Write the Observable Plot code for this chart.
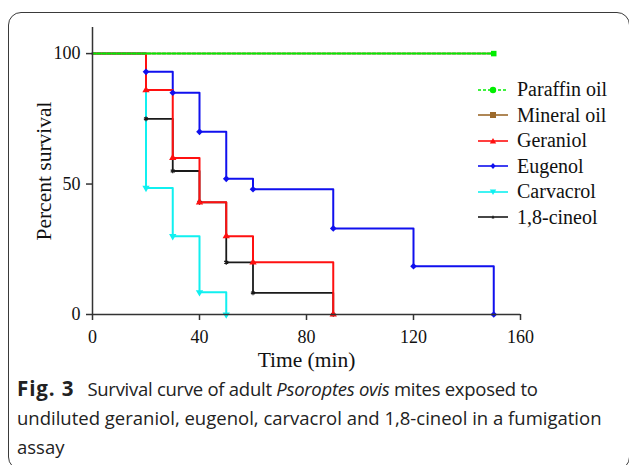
<!DOCTYPE html>
<html>
<head>
<meta charset="utf-8">
<script src="https://cdn.jsdelivr.net/npm/d3@7"></script>
<script src="https://cdn.jsdelivr.net/npm/@observablehq/plot@0.6"></script>
<style>
  html, body { margin: 0; padding: 0; background: #fff; }
  body { width: 629px; height: 465px; position: relative; overflow: hidden; }
  #frame { position: absolute; left: 8px; top: 12px; width: 622px; height: 458px;
           border: 1.3px solid #3a3a3a; border-radius: 13px; box-sizing: border-box; }
  #chart { position: absolute; left: 0; top: 0; }
  #legend { position: absolute; left: 478px; top: 77px; font-family: "Liberation Serif", serif;
            font-size: 20px; color: #111; }
  #legend .row { height: 25.5px; display: flex; align-items: center; white-space: nowrap; }
  #legend svg { margin-right: 9px; flex: none; }
  #caption { position: absolute; left: 17px; top: 373.5px; font-family: "Open Sans", sans-serif;
             font-size: 18.5px; line-height: 29px; color: #222; white-space: nowrap; }
  #caption b { font-weight: 700; font-size: 20.5px; letter-spacing: 0.9px; margin-right: 13px; }
  #caption .l1 { letter-spacing: -0.27px; }
</style>
</head>
<body>
<div id="frame"></div>
<div id="chart"></div>
<div id="legend"></div>
<div id="caption"><b>Fig. 3</b><span class="l1">Survival curve of adult <i>Psoroptes ovis</i> mites exposed to</span><br>undiluted geraniol, eugenol, carvacrol and 1,8-cineol in a fumigation<br>assay</div>
<script>
// ---- data ----
const seriesNames = ["Paraffin oil", "Mineral oil", "Geraniol", "Eugenol", "Carvacrol", "1,8-cineol"];
const paraffinTime = [0, 150];
const paraffinSurv = [100, 100];
const mineralTime = [0, 150];
const mineralSurv = [100, 100];
const geraniolTime = [0, 20, 30, 40, 50, 60, 90];
const geraniolSurv = [100, 86, 60, 43, 30, 20, 0];
const eugenolTime = [0, 20, 30, 40, 50, 60, 90, 120, 150];
const eugenolSurv = [100, 93, 85, 70, 52, 48, 33, 18.5, 0];
const carvacrolTime = [0, 20, 30, 40, 50];
const carvacrolSurv = [100, 48.5, 30, 8.5, 0];
const cineolTime = [0, 20, 30, 40, 50, 60, 90];
const cineolSurv = [100, 75, 55, 43, 20, 8.3, 0];
const xTicks = [0, 40, 80, 120, 160];
const yTicks = [0, 50, 100];

// ---- styles ----
const colors = {
  "Paraffin oil": "#00ee00", "Mineral oil": "#9c6a2c", "Geraniol": "#ff1010",
  "Eugenol": "#1010ee", "Carvacrol": "#10f0f0", "1,8-cineol": "#1a1a1a"
};
const toRows = (name, t, s) => t.map((x, i) => ({name, t: x, s: s[i]}));
const data = {
  "Paraffin oil": toRows("Paraffin oil", paraffinTime, paraffinSurv),
  "Mineral oil": toRows("Mineral oil", mineralTime, mineralSurv),
  "Geraniol": toRows("Geraniol", geraniolTime, geraniolSurv),
  "Eugenol": toRows("Eugenol", eugenolTime, eugenolSurv),
  "Carvacrol": toRows("Carvacrol", carvacrolTime, carvacrolSurv),
  "1,8-cineol": toRows("1,8-cineol", cineolTime, cineolSurv)
};
const after0 = arr => arr.slice(1);

const stepLine = (name, w) => Plot.line(data[name], {x: "t", y: "s", curve: "step-after",
  stroke: colors[name], strokeWidth: w});

const chart = Plot.plot({
  width: 629, height: 380,
  marginLeft: 92, marginRight: 109, marginTop: 27, marginBottom: 66,
  style: {fontFamily: "Liberation Serif, serif", fontSize: "18px", color: "#111", background: "transparent"},
  x: {domain: [0, 160]},
  y: {domain: [0, 110]},
  marks: [
    stepLine("Eugenol", 2),
    stepLine("1,8-cineol", 1.8),
    stepLine("Carvacrol", 2),
    stepLine("Geraniol", 2),
    Plot.dot(after0(data["Eugenol"]), {x: "t", y: "s", symbol: "diamond2", r: 3, fill: colors["Eugenol"]}),
    Plot.dot(after0(data["1,8-cineol"]), {x: "t", y: "s", symbol: "asterisk", r: 2.2, stroke: colors["1,8-cineol"], strokeWidth: 1.2}),
    Plot.dot(after0(data["Carvacrol"]), {x: "t", y: "s", symbol: "triangle2", r: 3.5, rotate: 180, fill: colors["Carvacrol"]}),
    Plot.dot(after0(data["Geraniol"]), {x: "t", y: "s", symbol: "triangle2", r: 3.5, fill: colors["Geraniol"]}),
    Plot.line(data["Mineral oil"], {x: "t", y: "s", stroke: "#b07050", strokeWidth: 2}),
    Plot.line(data["Paraffin oil"], {x: "t", y: "s", stroke: colors["Paraffin oil"], strokeWidth: 2, strokeDasharray: "3,2"}),
    Plot.dot(after0(data["Paraffin oil"]), {x: "t", y: "s", symbol: "square2", r: 3.5, fill: colors["Paraffin oil"]}),
    Plot.ruleX([0], {stroke: "#333", strokeWidth: 1.5}),
    Plot.ruleY([0], {stroke: "#333", strokeWidth: 1.5}),
    Plot.axisX({ticks: xTicks, tickSize: 6, tickPadding: 10, fontSize: 18, label: null, stroke: "#333", strokeWidth: 1.5, color: "#111"}),
    Plot.axisY({ticks: yTicks, tickSize: 6, tickPadding: 6, fontSize: 18, label: null, stroke: "#333", strokeWidth: 1.5, color: "#111"}),
    Plot.text(["Time (min)"], {text: d => d, frameAnchor: "bottom", dy: 52, fontSize: 21.5, fill: "#111"}),
    Plot.text(["Percent survival"], {text: d => d, frameAnchor: "left", textAnchor: "middle", dx: -48.5, rotate: -90, fontSize: 21.5, fill: "#111"})
  ]
});
document.getElementById("chart").appendChild(chart);

// ---- legend (HTML) ----
const symbolFor = {
  "Paraffin oil": "circle", "Mineral oil": "square", "Geraniol": "triangle",
  "Eugenol": "diamond", "Carvacrol": "triangleDown", "1,8-cineol": "star"
};
const legend = document.getElementById("legend");
for (const name of seriesNames) {
  const c = colors[name];
  const dash = name === "Paraffin oil" ? 'stroke-dasharray="3,2"' : "";
  let marker = "";
  const s = symbolFor[name];
  if (s === "circle") marker = `<circle cx="15" cy="6" r="3.2" fill="${c}"/>`;
  if (s === "square") marker = `<rect x="12" y="3" width="6" height="6" fill="${c}"/>`;
  if (s === "triangle") marker = `<path d="M15,3 L18.2,8.5 L11.8,8.5Z" fill="${c}"/>`;
  if (s === "triangleDown") marker = `<path d="M15,9 L18.2,3.5 L11.8,3.5Z" fill="${c}"/>`;
  if (s === "diamond") marker = `<path d="M15,3 L17.6,6 L15,9 L12.4,6Z" fill="${c}"/>`;
  if (s === "star") marker = `<path d="M15,4 L16.3,7.5 L13.7,7.5Z" fill="${c}"/>`;
  const row = document.createElement("div");
  row.className = "row";
  row.innerHTML = `<svg width="30" height="12"><line x1="0" y1="6" x2="30" y2="6" stroke="${c}" stroke-width="1.6" ${dash}/>${marker}</svg><span>${name}</span>`;
  legend.appendChild(row);
}
</script>
</body>
</html>
